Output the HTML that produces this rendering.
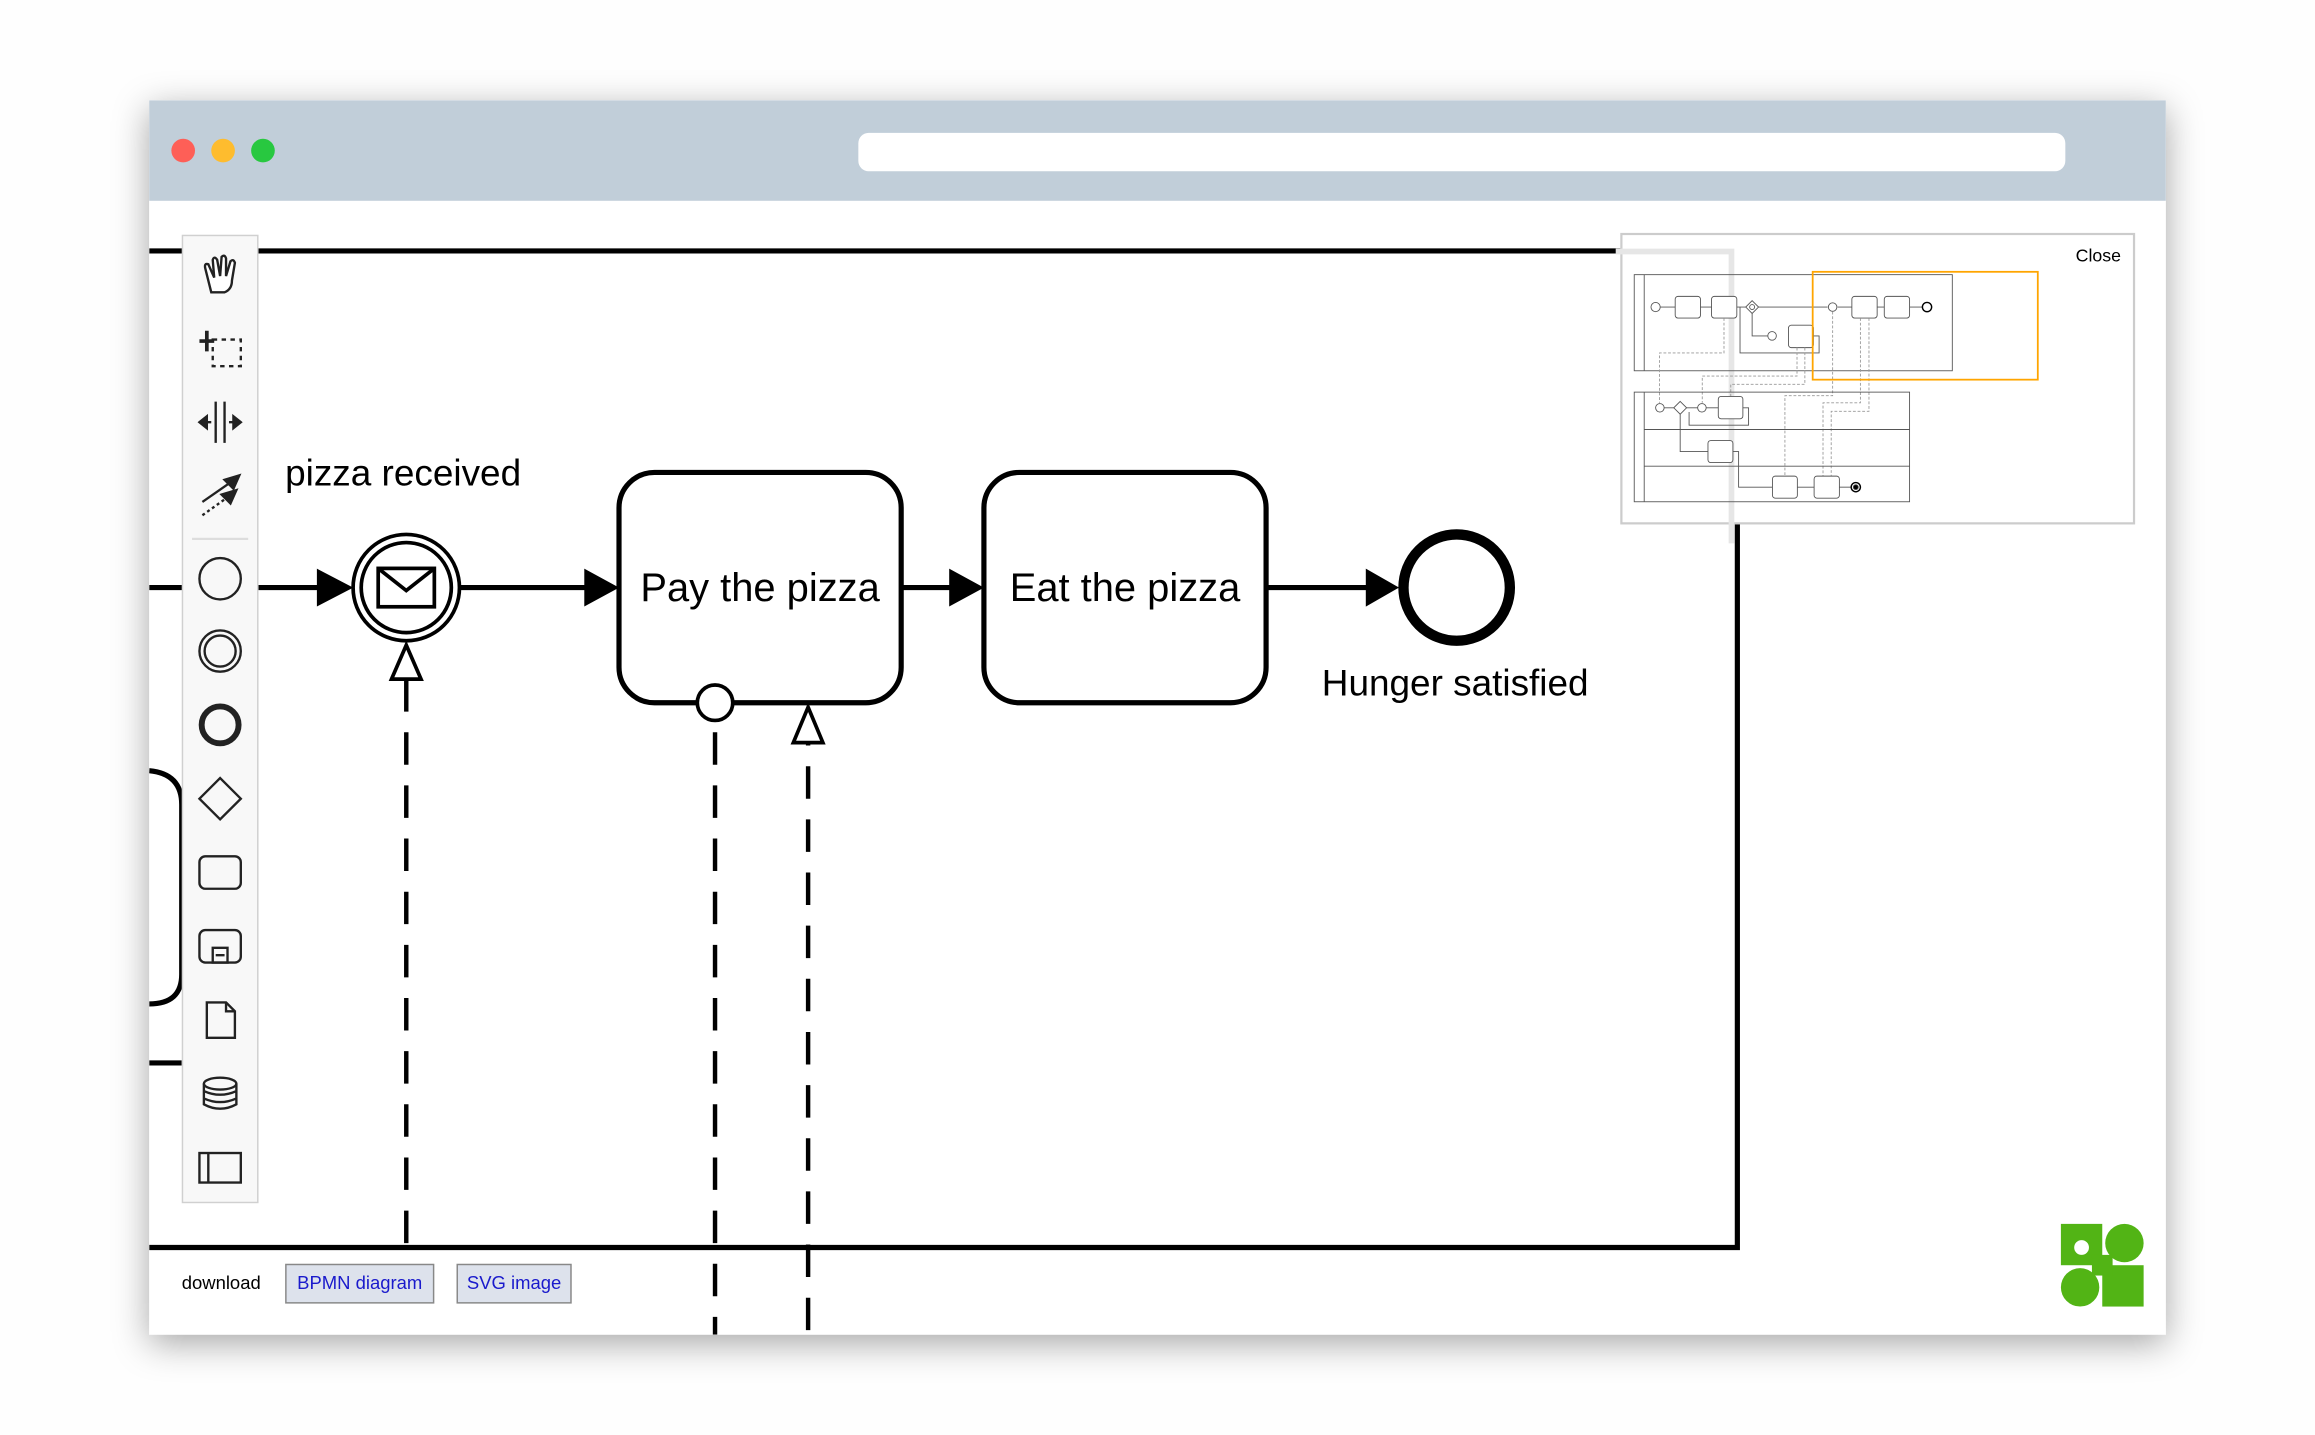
<!DOCTYPE html>
<html><head><meta charset="utf-8"><style>
html,body{margin:0;padding:0;background:#fefefe;}
svg{display:block;}
text{font-family:"Liberation Sans",sans-serif;}
</style></head><body>
<svg width="2315" height="1435" viewBox="0 0 1567 972" preserveAspectRatio="none" xmlns="http://www.w3.org/2000/svg">
<defs>
<filter id="sh" x="-10%" y="-10%" width="120%" height="125%"><feDropShadow dx="0" dy="6" stdDeviation="12" flood-color="#000" flood-opacity="0.35"/></filter>
<clipPath id="cv"><rect x="101" y="136" width="1365" height="768"/></clipPath>
</defs>
<rect x="0" y="0" width="1567" height="972" fill="#fefefe"/>
<rect x="101" y="68" width="1365" height="836" fill="#fff" filter="url(#sh)"/>
<rect x="101" y="68" width="1365" height="68" fill="#c1ced9"/>
<circle cx="124" cy="102" r="8" fill="#fe5f57"/>
<circle cx="151" cy="102" r="8" fill="#febc2e"/>
<circle cx="178" cy="102" r="8" fill="#28c840"/>
<rect x="581" y="90" width="817" height="26" rx="7" fill="#fff"/>
<g clip-path="url(#cv)" stroke="#000" fill="none">
<path d="M101 170 H1176 V845 H101" stroke-width="3.5"/>
<path d="M101 522 Q123 524 123 545 V660 Q123 680 101 680" stroke-width="3.5"/>
<line x1="101" y1="720" x2="123" y2="720" stroke-width="3.5"/>
<line x1="101" y1="398" x2="216" y2="398" stroke-width="3.5"/>
<polygon points="215,386 238,398 215,410" fill="#000"/>
<line x1="312" y1="398" x2="397" y2="398" stroke-width="3.5"/>
<polygon points="396,386 418,398 396,410" fill="#000"/>
<line x1="610" y1="398" x2="644" y2="398" stroke-width="3.5"/>
<polygon points="643,386 665,398 643,410" fill="#000"/>
<line x1="857" y1="398" x2="926" y2="398" stroke-width="3.5"/>
<polygon points="925,386 946,398 925,410" fill="#000"/>
<circle cx="275" cy="398" r="36" stroke-width="2.5" fill="#fff"/>
<circle cx="275" cy="398" r="30.5" stroke-width="2.5"/>
<rect x="256" y="385" width="38" height="26" stroke-width="2.5"/>
<polyline points="256,385 275,400 294,385" stroke-width="2.5"/>
<rect x="419" y="320" width="191" height="156" rx="24" stroke-width="3.5" fill="#fff"/>
<rect x="666" y="320" width="191" height="156" rx="24" stroke-width="3.5" fill="#fff"/>
<circle cx="986" cy="398" r="36" stroke-width="7" fill="#fff"/>
<line x1="275" y1="460" x2="275" y2="845" stroke-width="3" stroke-dasharray="22,14"/>
<polygon points="275,437 265,460 285,460" stroke-width="2.5" fill="#fff"/>
<line x1="484" y1="488" x2="484" y2="904" stroke-width="3" stroke-dasharray="22,14" stroke-dashoffset="-8"/>
<circle cx="484" cy="476" r="12" stroke-width="2.5" fill="#fff"/>
<line x1="547" y1="503" x2="547" y2="904" stroke-width="3" stroke-dasharray="22,14" stroke-dashoffset="-16"/>
<polygon points="547,479 537,503 557,503" stroke-width="2.5" fill="#fff"/>
</g>
<g font-size="25" fill="#000">
<text x="193" y="329">pizza received</text>
<text x="514.5" y="407" text-anchor="middle" font-size="27">Pay the pizza</text>
<text x="761.5" y="407" text-anchor="middle" font-size="27">Eat the pizza</text>
<text x="985" y="471" text-anchor="middle">Hunger satisfied</text>
</g>
<rect x="123.5" y="159.5" width="51" height="655" fill="#f8f8f8" stroke="#d0d0d0"/>
<line x1="130" y1="365" x2="168" y2="365" stroke="#ddd" stroke-width="1.5"/>
<g stroke="#222" fill="none" stroke-width="1.6">
<path d="M142 194 L139 182 Q138 178 141 179 L145 188 L144 176 Q145 173 147 176 L149 187 L150 174 Q152 172 153 175 L153 187 L156 177 Q158 175 159 178 L157 190 Q157 196 152 198 L143 198 Z" fill="#fff"/>
<path d="M135 231 H145 M140 224 V238" stroke-width="2.5"/>
<rect x="144" y="230" width="19" height="18" stroke-dasharray="3,3"/>
<path d="M146 272 V300 M152 272 V300"/>
<path d="M135 286 H143 M155 286 H163"/>
<polygon points="135,286 140,282 140,290" fill="#222"/>
<polygon points="163,286 158,282 158,290" fill="#222"/>
<path d="M137 340 L160 324" /><polygon points="162,322 152,325 158,331" fill="#222"/>
<path d="M137 349 L158 334" stroke-dasharray="2,2"/><polygon points="160,332 150,335 156,341" fill="#222"/>
<circle cx="149" cy="392" r="14"/>
<circle cx="149" cy="441" r="14"/><circle cx="149" cy="441" r="10.5"/>
<circle cx="149" cy="491" r="12.5" stroke-width="4"/>
<polygon points="149,527 163,541 149,555 135,541"/>
<rect x="135" y="580" width="28" height="22" rx="4"/>
<rect x="135" y="630" width="28" height="22" rx="4"/><rect x="144" y="642" width="10" height="10"/><line x1="146" y1="647" x2="152" y2="647"/>
<path d="M140 679 H153 L159 685 V703 H140 Z"/><path d="M153 679 V685 H159"/>
<ellipse cx="149" cy="734" rx="11" ry="4"/><path d="M138 734 V748 Q149 754 160 748 V734 M138 739 Q149 744 160 739 M138 744 Q149 749 160 744"/>
<rect x="135" y="781" width="28" height="20"/><line x1="141" y1="781" x2="141" y2="801"/>
</g>
<rect x="1097.5" y="158.5" width="347" height="196" fill="#fff" stroke="#ccc" stroke-width="1.5"/>
<text x="1405" y="177" font-size="12">Close</text>
<g transform="translate(1080.4,133) scale(0.2411)" fill="none" stroke="#555" stroke-width="2.5">
<path d="M55 155 H380 V975" stroke="#e6e6e6" stroke-width="16"/>
<rect x="107" y="220" width="893" height="270"/><line x1="135" y1="220" x2="135" y2="490"/>
<line x1="180" y1="311" x2="650" y2="311"/><line x1="678" y1="311" x2="915" y2="311"/>
<circle cx="167" cy="311" r="13" fill="#fff"/>
<rect x="222" y="281" width="71" height="61" rx="8" fill="#fff"/>
<rect x="324" y="281" width="71" height="61" rx="8" fill="#fff"/>
<polygon points="438,293 456,311 438,329 420,311" fill="#fff"/><circle cx="438" cy="311" r="7"/>
<path d="M438 329 V392 H482"/><circle cx="494" cy="392" r="12" fill="#fff"/>
<rect x="540" y="362" width="70" height="63" rx="8" fill="#fff"/>
<path d="M610 392 H626 V440 H404 V311"/>
<circle cx="664" cy="311" r="12" fill="#fff"/>
<rect x="718" y="281" width="71" height="61" rx="8" fill="#fff"/>
<rect x="809" y="281" width="71" height="61" rx="8" fill="#fff"/>
<circle cx="929" cy="311" r="13" stroke="#000" stroke-width="4" fill="#fff"/>
<g stroke="#999" stroke-dasharray="8,5">
<path d="M359 342 V440 H178 V580"/><path d="M564 425 V505 H298 V580"/><path d="M586 425 V528 H378 V562"/>
<path d="M664 324 V560 H530 V786"/><path d="M742 342 V580 H637 V786"/><path d="M766 342 V604 H660 V786"/>
</g>
<rect x="107" y="550" width="773" height="308"/><line x1="135" y1="550" x2="135" y2="858"/>
<line x1="135" y1="655" x2="880" y2="655"/><line x1="135" y1="758" x2="880" y2="758"/>
<line x1="192" y1="594" x2="343" y2="594"/>
<circle cx="179" cy="594" r="12" fill="#fff"/>
<polygon points="236,576 254,594 236,612 218,594" fill="#fff"/>
<circle cx="297" cy="594" r="12" fill="#fff"/>
<rect x="343" y="562" width="69" height="63" rx="8" fill="#fff"/>
<path d="M412 594 H428 V643 H261 V606"/>
<path d="M236 612 V717 H314"/>
<rect x="314" y="686" width="70" height="62" rx="8" fill="#fff"/>
<path d="M384 717 H400 V817 H495"/>
<rect x="495" y="786" width="70" height="62" rx="8" fill="#fff"/>
<line x1="565" y1="817" x2="612" y2="817"/>
<rect x="612" y="786" width="71" height="62" rx="8" fill="#fff"/>
<line x1="683" y1="817" x2="716" y2="817"/>
<circle cx="729" cy="817" r="13" stroke="#000" stroke-width="4"/><circle cx="729" cy="817" r="7" fill="#000"/>
<rect x="608" y="212" width="632" height="303" stroke="#ffa500" stroke-width="5"/>
</g>
<text x="123" y="873" font-size="12.5">download</text>
<rect x="193.5" y="856.5" width="100" height="26" fill="#dde2ec" stroke="#888"/>
<text x="243.5" y="873" font-size="12.5" fill="#1a1acc" text-anchor="middle">BPMN diagram</text>
<rect x="309.5" y="856.5" width="77" height="26" fill="#dde2ec" stroke="#888"/>
<text x="348" y="873" font-size="12.5" fill="#1a1acc" text-anchor="middle">SVG image</text>
<g fill="#52b415">
<rect x="1395" y="829" width="28" height="28"/>
<circle cx="1438" cy="842" r="13"/>
<circle cx="1408" cy="872" r="13"/>
<rect x="1423" y="857" width="28" height="28"/>
<rect x="1416" y="850" width="14" height="14"/>
</g>
<circle cx="1409" cy="845" r="5" fill="#fff"/>
</svg>
</body></html>
